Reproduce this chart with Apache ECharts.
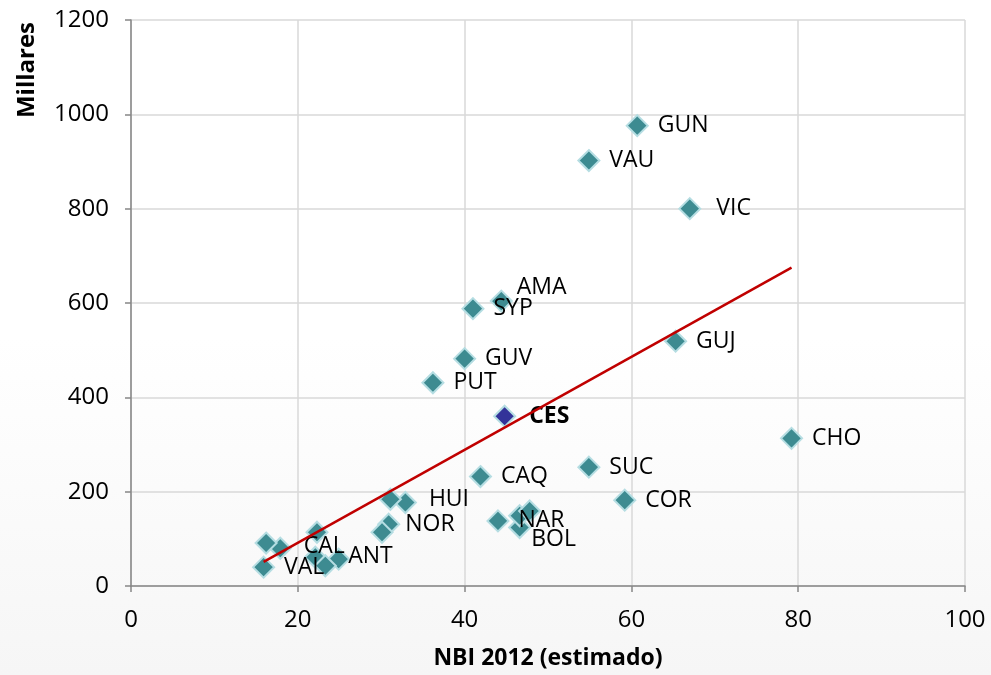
<!DOCTYPE html>
<html><head><meta charset="utf-8">
<script src="https://cdn.jsdelivr.net/npm/echarts@6/dist/echarts.min.js"></script>
<style>html,body{margin:0;padding:0;background:#fff}#c{width:991px;height:675px}</style>
</head><body><div id="c"></div>
<script>
const deptLabels = ['GUN','VAU','VIC','AMA','SYP','GUV','PUT','GUJ','CHO','SUC','COR','CAQ','NAR','BOL','','','HUI','','NOR','','CAL','','VAL','ANT','','',''];
const nbiValues  = [60.7, 54.9, 67.0, 44.4, 41.0, 40.0, 36.2, 65.3, 79.2, 54.9, 59.2, 41.9, 44.0, 46.6, 46.6, 47.8, 32.9, 31.1, 30.9, 30.1, 17.9, 16.2, 15.9, 24.9, 22.3, 22.1, 23.3];
const milValues  = [976, 902, 800, 604, 588, 482, 431, 519, 313, 252, 182, 232, 138, 124, 149, 159, 177, 184, 131, 114, 80, 91, 40, 57, 114, 61, 43];
const labelOffsets = {VIC:[6,0], AMA:[-5,-14], BOL:[-9,12], ANT:[-11,-3], HUI:[3,-3], NOR:[-4,0], CAL:[3,-2]};
const cesLabel = 'CES';
const cesX = 44.8, cesY = 360;
const trendX = [15.9, 79.2];
const trendY = [51, 675];
const xTicks = {min:0, max:100, interval:20};
const yTicks = {min:0, max:1200, interval:200};

const chart = echarts.init(document.getElementById('c'));
const FONT = 'Open Sans';
const pts = nbiValues.map((x, i) => {
  const item = {name: deptLabels[i], value: [x, milValues[i]]};
  if (labelOffsets[deptLabels[i]]) item.label = {offset: labelOffsets[deptLabels[i]]};
  return item;
});
chart.setOption({
  animation: false,
  backgroundColor: new echarts.graphic.LinearGradient(0,0,0,1,[{offset:0,color:'#ffffff'},{offset:0.5,color:'#ffffff'},{offset:1,color:'#f6f6f6'}]),
  grid: {left:131, right:26, top:20, bottom:88},
  xAxis: {
    type:'value', min:xTicks.min, max:xTicks.max, interval:xTicks.interval,
    name:'NBI 2012 (estimado)', nameLocation:'middle', nameGap:61,
    nameTextStyle:{fontFamily:FONT, fontWeight:'bold', fontSize:23, color:'#000'},
    axisLine:{show:true, lineStyle:{color:'#868686', width:1.5}},
    axisTick:{show:true, length:6, lineStyle:{color:'#868686', width:1.5}},
    axisLabel:{fontFamily:FONT, fontSize:24, color:'#000', margin:22},
    splitLine:{show:true, lineStyle:{color:'#d9d9d9', width:1.5}}
  },
  yAxis: {
    type:'value', min:yTicks.min, max:yTicks.max, interval:yTicks.interval,
    axisLine:{show:true, lineStyle:{color:'#868686', width:1.5}},
    axisTick:{show:true, length:6, lineStyle:{color:'#868686', width:1.5}},
    axisLabel:{fontFamily:FONT, fontSize:24, color:'#000', margin:22, formatter:v=>String(v)},
    splitLine:{show:true, lineStyle:{color:'#d9d9d9', width:1.5}}
  },
  graphic: [{
    type:'text', x:27, y:70, rotation:Math.PI/2,
    style:{text:'Millares', font:'bold 24px "Open Sans"', fill:'#000', textAlign:'center', textVerticalAlign:'middle'}
  }],
  series: [
    {
      type:'line', data: trendX.map((x,i)=>[x, trendY[i]]), symbol:'none',
      lineStyle:{color:'#c00000', width:2.5}, z:3, silent:true
    },
    {
      type:'scatter', data: pts, symbol:'diamond', symbolSize:21,
      itemStyle:{color:'#3d8b91', borderColor:'#b5dde2', borderWidth:2, opacity:1},
      label:{show:true, position:'right', distance:9, formatter:p=>p.name,
             fontFamily:FONT, fontSize:23, color:'#000'},
      z:2
    },
    {
      type:'scatter', data:[{name:cesLabel, value:[cesX, cesY]}], symbol:'diamond', symbolSize:21,
      itemStyle:{color:'#333399', borderColor:'#b5dde2', borderWidth:2, opacity:1},
      label:{show:true, position:'right', distance:13, formatter:p=>p.name,
             fontFamily:FONT, fontSize:23, fontWeight:'bold', color:'#000'},
      z:2
    }
  ]
});
</script></body></html>
